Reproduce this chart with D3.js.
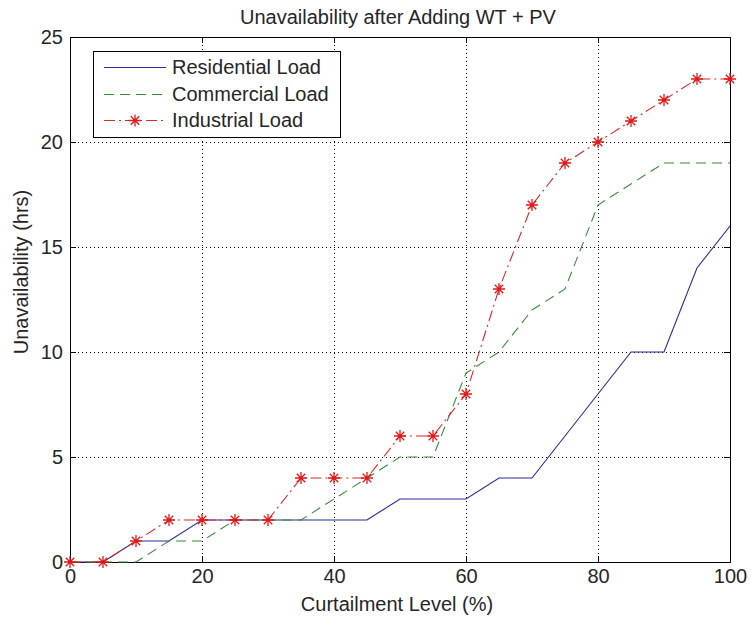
<!DOCTYPE html>
<html>
<head>
<meta charset="utf-8">
<script src="https://cdn.jsdelivr.net/npm/d3@7"></script>
<style>
  html, body { margin: 0; padding: 0; background: #fff; }
  svg { display: block; }
  text { font-family: "Liberation Sans", Arial, sans-serif; fill: #262626; }
</style>
</head>
<body>
<svg id="chart" width="751" height="619"></svg>
<script>
// Curtailment levels (%) on the x axis
const curtailment = [0, 5, 10, 15, 20, 25, 30, 35, 40, 45, 50, 55, 60, 65, 70, 75, 80, 85, 90, 95, 100];

// Unavailability (hrs) per load type
const residential = [0, 0, 1, 1, 2, 2, 2, 2, 2, 2, 3, 3, 3, 4, 4, 6, 8, 10, 10, 14, 16];
const commercial  = [0, 0, 0, 1, 1, 2, 2, 2, 3, 4, 5, 5, 9, 10, 12, 13, 17, 18, 19, 19, 19];
const industrial  = [0, 0, 1, 2, 2, 2, 2, 4, 4, 4, 6, 6, 8, 13, 17, 19, 20, 21, 22, 23, 23];

const seriesNames = ["Residential Load", "Commercial Load", "Industrial Load"];
const xTicks = [0, 20, 40, 60, 80, 100];
const yTicks = [0, 5, 10, 15, 20, 25];

const titleText = "Unavailability after Adding WT + PV";
const xLabel = "Curtailment Level (%)";
const yLabel = "Unavailability (hrs)";

const W = 751, H = 619;
const m = { left: 70, right: 21, top: 37, bottom: 57 };
const pw = W - m.left - m.right, ph = H - m.top - m.bottom;

const svg = d3.select("#chart");
const g = svg.append("g").attr("transform", `translate(${m.left},${m.top})`);

const x = d3.scaleLinear().domain([0, 100]).range([0, pw]);
const y = d3.scaleLinear().domain([0, 25]).range([ph, 0]);

const fontSize = 20;

// dotted grid
g.append("g").selectAll("line").data(xTicks.filter(t => t > 0 && t < 100)).join("line")
  .attr("x1", d => Math.round(x(d)) + 0.5).attr("x2", d => Math.round(x(d)) + 0.5)
  .attr("y1", 0).attr("y2", ph)
  .attr("stroke", "#000").attr("stroke-width", 1).attr("stroke-dasharray", "1,3");
g.append("g").selectAll("line").data(yTicks.filter(t => t > 0 && t < 25)).join("line")
  .attr("y1", d => Math.round(y(d)) + 0.5).attr("y2", d => Math.round(y(d)) + 0.5)
  .attr("x1", 0).attr("x2", pw)
  .attr("stroke", "#000").attr("stroke-width", 1).attr("stroke-dasharray", "1,3");

// axes with inward ticks on all four sides
const tickLen = 6;
const xAxisB = g.append("g").attr("transform", `translate(0,${ph})`)
  .call(d3.axisBottom(x).tickValues(xTicks).tickSizeInner(-tickLen).tickSizeOuter(0).tickPadding(7));
const xAxisT = g.append("g")
  .call(d3.axisTop(x).tickValues(xTicks).tickSizeInner(-tickLen).tickSizeOuter(0).tickFormat(""));
const yAxisL = g.append("g")
  .call(d3.axisLeft(y).tickValues(yTicks).tickSizeInner(-tickLen).tickSizeOuter(0).tickPadding(7));
const yAxisR = g.append("g").attr("transform", `translate(${pw},0)`)
  .call(d3.axisRight(y).tickValues(yTicks).tickSizeInner(-tickLen).tickSizeOuter(0).tickFormat(""));

[xAxisB, xAxisT, yAxisL, yAxisR].forEach(a => {
  a.select(".domain").remove();
  a.selectAll("line").attr("stroke", "#000");
  a.selectAll("text").style("font-size", fontSize + "px").attr("fill", "#262626")
    .style("font-family", "'Liberation Sans', Arial, sans-serif");
});

// plot frame
g.append("rect").attr("x", 0.5).attr("y", 0.5).attr("width", pw).attr("height", ph)
  .attr("fill", "none").attr("stroke", "#000").attr("stroke-width", 1);

// series
const styles = [
  { data: residential, color: "#2a2a9a", dash: null, marker: false },
  { data: commercial,  color: "#3a8a3a", dash: "10,6", marker: false },
  { data: industrial,  color: "#d42a2a", dash: "11,4,2,4", marker: true }
];

const line = d3.line().x((d, i) => x(curtailment[i])).y(d => y(d));

function asterisk(sel, cx, cy, r, color) {
  const a = r * Math.SQRT1_2;
  const path = `M${cx - r},${cy}L${cx + r},${cy}M${cx},${cy - r}L${cx},${cy + r}` +
               `M${cx - a},${cy - a}L${cx + a},${cy + a}M${cx - a},${cy + a}L${cx + a},${cy - a}`;
  sel.append("path").attr("d", path).attr("stroke", color).attr("stroke-width", 1.3).attr("fill", "none");
}

styles.forEach(s => {
  g.append("path").datum(s.data).attr("d", line)
    .attr("fill", "none").attr("stroke", s.color).attr("stroke-width", 1.1)
    .attr("stroke-dasharray", s.dash);
  if (s.marker) {
    const mg = g.append("g");
    s.data.forEach((v, i) => asterisk(mg, x(curtailment[i]), y(v), 6, "#e01818"));
  }
});

// title and axis labels
svg.append("text").attr("x", m.left + pw / 2 - 2).attr("y", 24).attr("text-anchor", "middle")
  .style("font-size", fontSize + "px").text(titleText);
svg.append("text").attr("x", m.left + pw / 2 - 3).attr("y", 611).attr("text-anchor", "middle")
  .style("font-size", fontSize + "px").text(xLabel);
svg.append("text").attr("transform", `translate(28,272) rotate(-90)`).attr("text-anchor", "middle")
  .style("font-size", fontSize + "px").text(yLabel);

// legend
const lg = svg.append("g").attr("transform", "translate(93,51)");
lg.append("rect").attr("x", 0.5).attr("y", 0.5).attr("width", 247).attr("height", 86)
  .attr("fill", "#fff").attr("stroke", "#000").attr("stroke-width", 1);
const rowsY = [16, 43, 69];
styles.forEach((s, i) => {
  const ry = rowsY[i] + 0.5;
  lg.append("line").attr("x1", 11).attr("x2", 73).attr("y1", ry).attr("y2", ry)
    .attr("stroke", s.color).attr("stroke-width", 1.1).attr("stroke-dasharray", s.dash);
  if (s.marker) asterisk(lg, 42, ry, 6, "#e01818");
  lg.append("text").attr("x", 79).attr("y", rowsY[i] + 7)
    .style("font-size", fontSize + "px").text(seriesNames[i]);
});
</script>
</body>
</html>
